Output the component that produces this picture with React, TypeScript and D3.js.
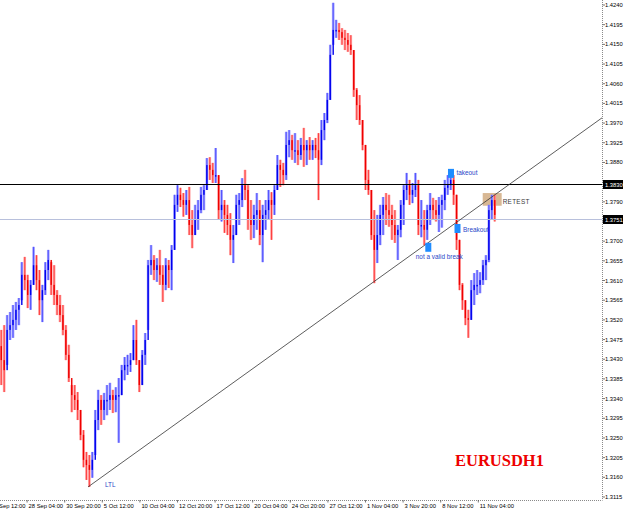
import React from 'react';
import * as d3 from 'd3';

// ---- data (EURUSD, bars; each bar spans 5 trading hours) ----
const barStartHour = 20;
const barStepHours = 5;
const firstOpen = 1.3460;

const highs = [
  1.3497,1.3508,1.3531,1.3538,1.3554,1.3561,1.3570,1.3652,1.3664,1.3623,
  1.3611,1.3687,1.3668,1.3634,1.3600,1.3652,1.3680,1.3652,1.3645,1.3588,
  1.3577,1.3554,1.3508,1.3463,1.3371,1.3371,1.3355,1.3314,1.3268,1.3218,
  1.3211,1.3218,1.3314,1.3360,1.3348,1.3353,1.3371,1.3376,1.3360,1.3366,
  1.3387,1.3417,1.3435,1.3440,1.3444,1.3508,1.3520,1.3428,1.3451,1.3490,
  1.3657,1.3691,1.3668,1.3661,1.3680,1.3645,1.3661,1.3657,1.3691,1.3806,
  1.3828,1.3822,1.3810,1.3817,1.3824,1.3771,1.3783,1.3794,1.3824,1.3828,
  1.3890,1.3892,1.3879,1.3913,1.3851,1.3817,1.3794,1.3783,1.3764,1.3737,
  1.3806,1.3810,1.3844,1.3863,1.3828,1.3794,1.3783,1.3810,1.3794,1.3783,
  1.3794,1.3817,1.3812,1.3828,1.3897,1.3886,1.3879,1.3950,1.3954,1.3943,
  1.3947,1.3931,1.3936,1.3959,1.3931,1.3938,1.3931,1.3936,1.3947,1.3977,
  1.3993,1.4039,1.4149,1.4245,1.4206,1.4199,1.4187,1.4183,1.4176,1.4171,
  1.4137,1.4050,1.4034,1.3977,1.3920,1.3863,1.3817,1.3771,1.3760,1.3783,
  1.3801,1.3810,1.3806,1.3783,1.3771,1.3737,1.3794,1.3828,1.3856,1.3840,
  1.3833,1.3856,1.3840,1.3794,1.3771,1.3783,1.3810,1.3799,1.3794,1.3801,
  1.3806,1.3840,1.3851,1.3856,1.3851,1.3806,1.3703,1.3604,1.3565,1.3543,
  1.3611,1.3627,1.3634,1.3629,1.3657,1.3668,1.3783,1.3806,1.3806,
];

const lows = [
  1.3371,1.3355,1.3417,1.3474,1.3479,1.3497,1.3508,1.3565,1.3588,1.3547,
  1.3543,1.3600,1.3588,1.3531,1.3515,1.3577,1.3611,1.3577,1.3554,1.3531,
  1.3515,1.3485,1.3428,1.3378,1.3309,1.3314,1.3291,1.3245,1.3183,1.3154,
  1.3138,1.3159,1.3211,1.3268,1.3280,1.3291,1.3302,1.3314,1.3307,1.3309,
  1.3239,1.3348,1.3382,1.3394,1.3401,1.3428,1.3417,1.3355,1.3371,1.3417,
  1.3497,1.3623,1.3611,1.3607,1.3600,1.3561,1.3588,1.3593,1.3588,1.3680,
  1.3767,1.3778,1.3756,1.3760,1.3714,1.3684,1.3714,1.3726,1.3764,1.3771,
  1.3817,1.3840,1.3833,1.3833,1.3749,1.3745,1.3719,1.3714,1.3668,1.3650,
  1.3714,1.3737,1.3778,1.3794,1.3726,1.3703,1.3707,1.3726,1.3691,1.3652,
  1.3726,1.3749,1.3703,1.3760,1.3817,1.3824,1.3828,1.3840,1.3892,1.3886,
  1.3879,1.3874,1.3886,1.3870,1.3874,1.3886,1.3886,1.3890,1.3794,1.3874,
  1.3931,1.3970,1.4023,1.4149,1.4165,1.4160,1.4149,1.4137,1.4133,1.4126,
  1.4030,1.3977,1.3966,1.3908,1.3817,1.3806,1.3703,1.3604,1.3650,1.3691,
  1.3714,1.3737,1.3733,1.3703,1.3696,1.3657,1.3709,1.3737,1.3794,1.3783,
  1.3787,1.3801,1.3714,1.3709,1.3691,1.3703,1.3737,1.3749,1.3745,1.3721,
  1.3731,1.3771,1.3806,1.3817,1.3783,1.3680,1.3588,1.3543,1.3508,1.3479,
  1.3520,1.3554,1.3577,1.3581,1.3600,1.3611,1.3652,1.3749,1.3745,
];

const closes = [
  1.3428,1.3405,1.3497,1.3508,1.3520,1.3543,1.3554,1.3623,1.3611,1.3577,
  1.3600,1.3645,1.3611,1.3565,1.3588,1.3634,1.3657,1.3600,1.3577,1.3554,
  1.3531,1.3497,1.3440,1.3387,1.3348,1.3337,1.3314,1.3257,1.3200,1.3188,
  1.3177,1.3200,1.3291,1.3337,1.3314,1.3337,1.3337,1.3348,1.3337,1.3348,
  1.3348,1.3405,1.3417,1.3417,1.3428,1.3474,1.3428,1.3371,1.3440,1.3474,
  1.3645,1.3657,1.3634,1.3645,1.3623,1.3600,1.3645,1.3634,1.3680,1.3783,
  1.3806,1.3794,1.3783,1.3794,1.3737,1.3714,1.3749,1.3771,1.3806,1.3817,
  1.3874,1.3863,1.3851,1.3851,1.3771,1.3783,1.3760,1.3737,1.3703,1.3714,
  1.3783,1.3794,1.3828,1.3817,1.3749,1.3737,1.3760,1.3771,1.3714,1.3760,
  1.3771,1.3794,1.3783,1.3817,1.3874,1.3863,1.3851,1.3920,1.3931,1.3908,
  1.3908,1.3897,1.3920,1.3908,1.3920,1.3908,1.3920,1.3908,1.3886,1.3954,
  1.3977,1.4023,1.4126,1.4183,1.4183,1.4178,1.4165,1.4160,1.4149,1.4137,
  1.4046,1.4011,1.3977,1.3920,1.3840,1.3817,1.3714,1.3680,1.3714,1.3760,
  1.3783,1.3771,1.3760,1.3737,1.3714,1.3726,1.3783,1.3817,1.3828,1.3806,
  1.3817,1.3828,1.3737,1.3737,1.3726,1.3771,1.3783,1.3771,1.3760,1.3783,
  1.3794,1.3822,1.3828,1.3840,1.3806,1.3703,1.3600,1.3565,1.3524,1.3520,
  1.3588,1.3600,1.3600,1.3611,1.3645,1.3657,1.3771,1.3794,1.3760,
];

const priceTicks = [
  1.4240,1.4195,1.4150,1.4105,1.4060,1.4015,1.3970,1.3925,1.3880,1.3835,
  1.3790,1.3745,1.3700,1.3655,1.3610,1.3565,1.3520,1.3475,1.3430,1.3385,
  1.3340,1.3295,1.3250,1.3205,1.3160,1.3115,
];

const dateTickLabels = [
  '23 Sep 12:00','28 Sep 04:00','30 Sep 20:00','5 Oct 12:00','10 Oct 04:00',
  '12 Oct 20:00','17 Oct 12:00','20 Oct 04:00','24 Oct 20:00','27 Oct 12:00',
  '1 Nov 04:00','3 Nov 20:00','8 Nov 12:00','11 Nov 04:00',
];
const dateTickHours = [0,64,128,192,256,320,384,448,512,576,640,704,768,832];

const levelPrices = [1.3830, 1.3751];
const levelColors = ['#000000', '#b8c0dc'];

// trend line: [hour, price]
const trendStart = [167.7, 1.3138];
const trendEnd = [1042.6, 1.3982];

// marker squares: [hour, price] centres
const markerHours = [785.5, 746.9, 796.6];
const markerPrices = [1.3855, 1.3686, 1.3729];
const markerLabels = ['takeout', 'not a valid break', 'Breakout'];

// retest zone
const retestHours = [839.5, 871.8];
const retestPrices = [1.3810, 1.3781];

const symbolTitle = 'EURUSDH1';

// ---- layout ----
const W = 625, H = 512;
const plotRight = 602.5, plotBottom = 500;

export default function App() {
  const y = d3.scaleLinear().domain([1.3115, 1.4240]).range([497, 5]);
  const x = d3.scaleLinear().domain([0, 64]).range([-10.5, -10.5 + 37.6]);

  const bars = highs.map((h, i) => {
    const open = i === 0 ? firstOpen : closes[i - 1];
    const close = closes[i];
    const up = close >= open;
    return { cx: x(barStartHour + barStepHours * i), yh: y(h), yl: y(lows[i]), yo: y(open), yc: y(close), up };
  });

  // hide axis labels that sit under the level tags
  const visibleTicks = priceTicks.filter(p => levelPrices.every(l => Math.abs(y(p) - y(l)) > 7));

  const font = '"Liberation Sans", Arial, sans-serif';
  const labelBlue = '#2846c8';

  return (
    <svg width={W} height={H} style={{ position: 'absolute', left: 0, top: 0, background: '#fff' }}>
      <defs>
        <clipPath id="plot"><rect x={0} y={0} width={plotRight} height={plotBottom} /></clipPath>
      </defs>
      <rect x={0} y={0} width={W} height={H} fill="#fff" />
      <g clipPath="url(#plot)">
        {/* retest zone (background object) */}
        <rect x={x(retestHours[0])} y={y(retestPrices[0])} width={x(retestHours[1]) - x(retestHours[0])}
          height={y(retestPrices[1]) - y(retestPrices[0])} fill="#d8b894" />
        {/* bars */}
        {bars.map((b, i) => (
          <g key={i}>
            <rect x={b.cx - 1.3} y={b.yh} width={2.6} height={Math.max(1, b.yl - b.yh)} fill={b.up ? '#a0a0ff' : '#ffa0a0'} />
            <rect x={b.cx - 0.5} y={b.yh} width={1} height={Math.max(1, b.yl - b.yh)} fill={b.up ? '#5050ff' : '#ff4040'} />
            <rect x={b.cx - 0.7} y={Math.min(b.yo, b.yc)} width={1.4} height={Math.max(1.5, Math.abs(b.yc - b.yo))} fill={b.up ? '#0000ee' : '#ee0000'} />
          </g>
        ))}
        {/* horizontal levels */}
        {levelPrices.map((p, i) => (
          <line key={i} x1={0} x2={plotRight} y1={Math.round(y(p)) + 0.5} y2={Math.round(y(p)) + 0.5} stroke={levelColors[i]} strokeWidth={1} />
        ))}
        {/* trend line */}
        <line x1={x(trendStart[0])} y1={y(trendStart[1])} x2={x(trendEnd[0])} y2={y(trendEnd[1])} stroke="#333" strokeWidth={0.8} />
        {/* markers */}
        {markerHours.map((h, i) => (
          <rect key={i} x={x(h) - 3} y={y(markerPrices[i]) - 4.5} width={6} height={9} fill="#1e8cff" />
        ))}
      </g>

      {/* annotations */}
      <g fontFamily={font} fontSize={6.4} fill={labelBlue}>
        <text x={x(markerHours[0]) + 5.5} y={y(markerPrices[0]) + 2}>{markerLabels[0]}</text>
        <text x={x(markerHours[1]) - 12.5} y={y(markerPrices[1]) + 12}>{markerLabels[1]}</text>
        <text x={x(markerHours[2]) + 5.5} y={y(markerPrices[2]) + 3.5}>{markerLabels[2]}</text>
        <text x={x(retestHours[1]) + 1} y={y(retestPrices[1]) - 1.5} fill="#3a3a3a" letterSpacing={0.3}>RETEST</text>
        <text x={x(trendStart[0]) + 17} y={y(trendStart[1]) + 0.5}>LTL</text>
      </g>
      <text x={455} y={466} fontFamily='"Liberation Serif", "Times New Roman", serif' fontWeight="bold" fontSize={16.5} fill="#ee0000">{symbolTitle}</text>

      {/* axes */}
      <line x1={plotRight} x2={plotRight} y1={0} y2={plotBottom} stroke="#8a8a8a" strokeDasharray="1 1" />
      <line x1={0} x2={plotRight} y1={plotBottom + 0.5} y2={plotBottom + 0.5} stroke="#8a8a8a" strokeDasharray="1 1" />
      <g fontFamily={font} fontSize={5.8} fill="#000">
        {priceTicks.map((p, i) => (
          <line key={i} x1={plotRight} x2={plotRight + 2.5} y1={y(p)} y2={y(p)} stroke="#555" strokeWidth={0.8} />
        ))}
        {visibleTicks.map((p, i) => (
          <text key={i} x={605} y={y(p)} dy="0.35em">{p.toFixed(4)}</text>
        ))}
        {dateTickHours.map((h, i) => (
          <g key={i}>
            <line x1={x(h)} x2={x(h)} y1={plotBottom} y2={plotBottom + 2.5} stroke="#555" strokeWidth={0.8} />
            <text x={x(h) + 1.5} y={507.5}>{dateTickLabels[i]}</text>
          </g>
        ))}
      </g>
      {/* current level tags */}
      {levelPrices.map((p, i) => (
        <g key={i}>
          <rect x={plotRight + 0.5} y={Math.round(y(p)) - 4} width={20} height={9} fill="#000" />
          <text x={605} y={Math.round(y(p)) + 0.5} dy="0.35em" fontFamily={font} fontSize={5.8} fill="#fff">{p.toFixed(4)}</text>
        </g>
      ))}
    </svg>
  );
}
